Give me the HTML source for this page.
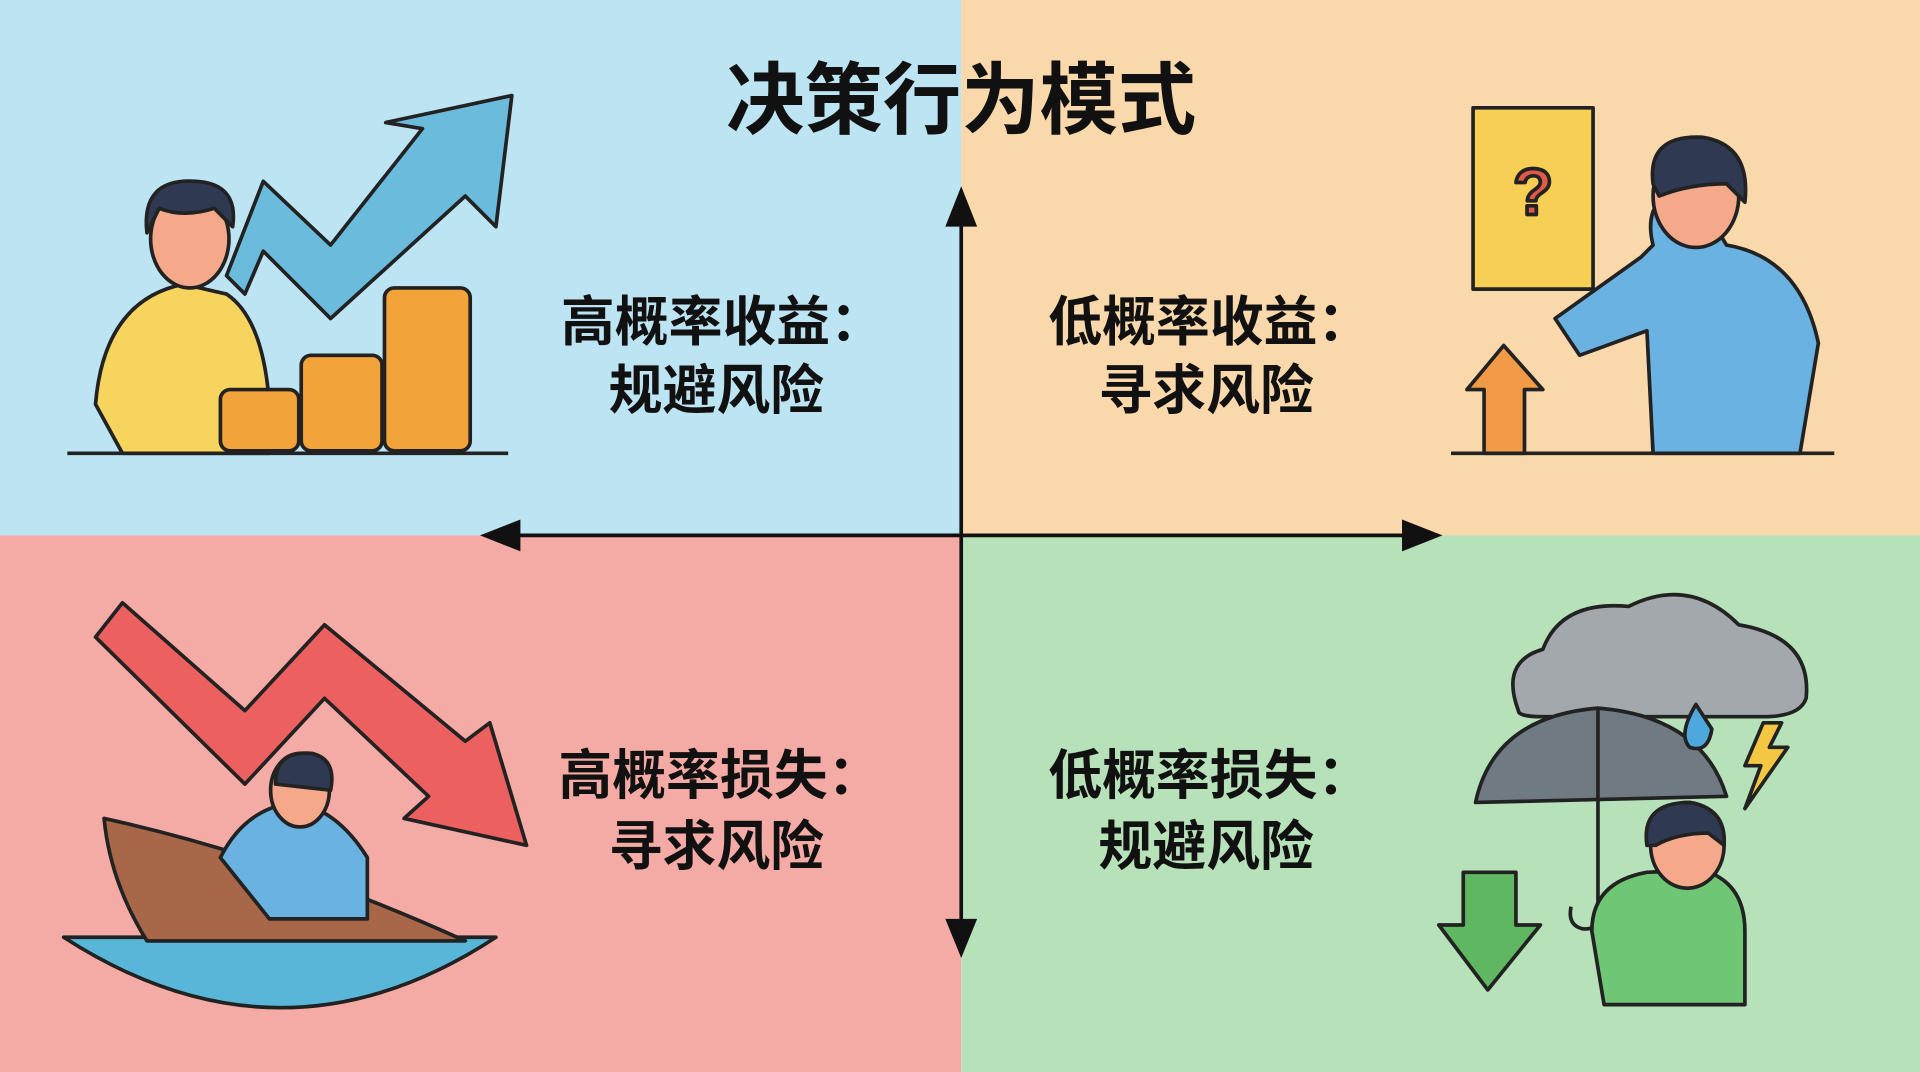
<!DOCTYPE html>
<html><head><meta charset="utf-8"><style>
html,body{margin:0;padding:0;width:1920px;height:1072px;overflow:hidden}
svg{display:block}
text{font-family:"Liberation Sans","Noto Sans CJK SC",sans-serif;font-weight:bold;fill:#111;text-anchor:middle}
</style></head><body>
<svg width="1920" height="1072" viewBox="0 0 1568 875" preserveAspectRatio="none">
<rect x="0" y="0" width="785" height="437" fill="#bce4f2"/>
<rect x="785" y="0" width="783" height="437" fill="#f9d8ab"/>
<rect x="0" y="437" width="785" height="438" fill="#f4aba5"/>
<rect x="785" y="437" width="783" height="438" fill="#b7e1b9"/>
<g stroke="#111" stroke-width="3" fill="none">
<line x1="785" y1="175" x2="785" y2="760"/>
<line x1="410" y1="437" x2="1160" y2="437"/>
</g>
<g fill="#111">
<polygon points="785,152 772,185 798,185"/>
<polygon points="785,782 772,750 798,750"/>
<polygon points="392,437 425,424 425,450"/>
<polygon points="1178,437 1145,424 1145,450"/>
</g>
<text x="785" y="104" font-size="64">决策行为模式</text>
<text x="590" y="278" font-size="44">高概率收益：</text>
<text x="585" y="334" font-size="44">规避风险</text>
<text x="988" y="278" font-size="44">低概率收益：</text>
<text x="985" y="334" font-size="44">寻求风险</text>
<text x="588" y="648" font-size="44">高概率损失：</text>
<text x="585" y="706" font-size="44">寻求风险</text>
<text x="988" y="648" font-size="44">低概率损失：</text>
<text x="985" y="706" font-size="44">规避风险</text>
<g stroke="#222" stroke-width="3" stroke-linejoin="round">
<!-- TL -->
<polygon points="185,225 215,148 270,200 345,105 315,100 418,78 405,185 380,160 270,260 215,205 200,240" fill="#6bbcdc"/>
<path d="M78,330 Q85,245 150,232 L185,240 Q215,260 220,330 L220,370 L100,370 Z" fill="#f7d45e"/>
<ellipse cx="155" cy="195" rx="32" ry="40" fill="#f4a98a"/>
<path d="M120,190 Q115,145 160,148 Q195,150 190,185 L175,170 Q150,178 130,170 Z" fill="#2f3a52"/>
<g fill="#f2a33a">
<rect x="180" y="318" width="64" height="50" rx="8"/>
<rect x="246" y="290" width="66" height="78" rx="8"/>
<rect x="314" y="235" width="70" height="133" rx="8"/>
</g>
<line x1="55" y1="370" x2="415" y2="370"/>
<!-- TR -->
<rect x="1203" y="88" width="98" height="148" fill="#f7cf55"/>
<text x="1252" y="175" font-size="54" style="fill:#e05a4a">?</text>
<path d="M1380,150 Q1340,160 1350,200 L1340,210 L1270,260 L1290,290 L1345,270 L1350,370 L1470,370 L1485,280 Q1470,210 1410,200 Z" fill="#6ab2e2"/>
<ellipse cx="1385" cy="160" rx="35" ry="42" fill="#f4a98a"/>
<path d="M1350,150 Q1345,110 1390,112 Q1430,118 1425,165 L1410,150 Q1380,150 1355,160 Z" fill="#2f3a52"/>
<polygon points="1228,282 1260,318 1245,318 1245,370 1212,370 1212,318 1198,318" fill="#f29a45"/>
<line x1="1185" y1="370" x2="1498" y2="370"/>
<!-- BL -->
<polygon points="78,520 100,492 200,580 265,510 380,605 400,590 430,690 330,668 350,650 265,570 200,640" fill="#ec6060"/>
<path d="M52,765 Q230,880 405,765 Z" fill="#58b6d8"/>
<path d="M85,668 Q230,700 380,768 L120,768 Q90,720 85,668 Z" fill="#a9674a"/>
<path d="M180,700 Q200,660 240,655 Q275,660 300,700 L300,750 L220,750 Z" fill="#6ab2e2"/>
<ellipse cx="245" cy="645" rx="24" ry="30" fill="#f4a98a"/>
<path d="M225,640 Q225,612 255,615 Q275,620 270,645 Z" fill="#2f3a52"/>
<!-- BR -->
<path d="M1240,580 Q1225,540 1260,530 Q1275,490 1330,495 Q1380,470 1420,510 Q1480,520 1475,570 Q1470,585 1440,585 L1260,585 Q1240,585 1240,580 Z" fill="#a3a8ad"/>
<path d="M1205,655 Q1220,585 1305,578 Q1390,585 1410,650 Z" fill="#707a82"/>
<line x1="1305" y1="578" x2="1305" y2="745" fill="none"/>
<path d="M1305,745 Q1305,760 1292,758 Q1280,755 1283,740" fill="none"/>
<path d="M1300,760 Q1300,720 1345,712 L1390,710 Q1425,720 1425,760 L1425,820 L1310,820 Z" fill="#6fc776"/>
<ellipse cx="1378" cy="690" rx="30" ry="35" fill="#f4a98a"/>
<path d="M1345,690 Q1340,655 1380,655 Q1410,660 1408,690 L1395,680 Q1370,680 1352,690 Z" fill="#2f3a52"/>
<polygon points="1440,590 1425,625 1438,625 1425,660 1460,610 1445,610 1455,590" fill="#f4c742"/>
<path d="M1385,575 Q1370,600 1380,610 Q1395,615 1398,595 Z" fill="#4ea8dd"/>
<polygon points="1195,712 1195,755 1175,755 1215,808 1258,755 1238,755 1238,712" fill="#5fb861"/>
</g>
</svg>
</body></html>
